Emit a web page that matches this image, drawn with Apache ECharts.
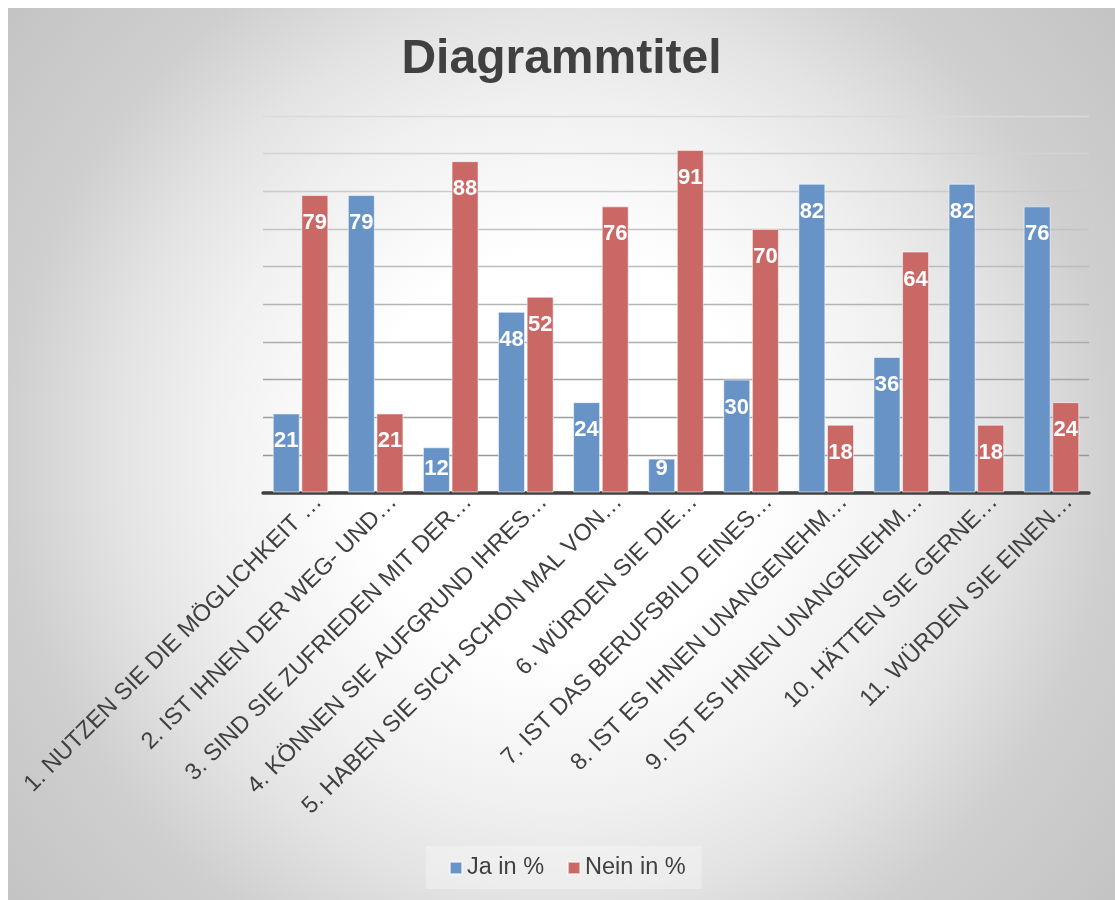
<!DOCTYPE html>
<html><head><meta charset="utf-8">
<script src="https://cdn.jsdelivr.net/npm/echarts@6.0.0/dist/echarts.min.js"></script>
<style>
html,body{margin:0;padding:0;background:#ffffff;width:1115px;height:900px;overflow:hidden}
#chart{position:absolute;left:8px;top:8px;width:1107px;height:892px;
background:radial-gradient(circle at 553px 446px,#ffffff 0px,#ffffff 200px,#f0f0f0 354px,#e3e3e3 446px,#cfcfcf 553px,#c3c3c3 720px);}
</style></head><body><div id="chart"></div>
<script>
const titleText = 'Diagrammtitel';
const categories = [
  '1. NUTZEN SIE DIE MÖGLICHKEIT …',
  '2. IST IHNEN DER WEG- UND…',
  '3. SIND SIE ZUFRIEDEN MIT DER…',
  '4. KÖNNEN SIE AUFGRUND IHRES…',
  '5. HABEN SIE SICH SCHON MAL VON…',
  '6. WÜRDEN SIE DIE…',
  '7. IST DAS BERUFSBILD EINES…',
  '8. IST ES IHNEN UNANGENEHM…',
  '9. IST ES IHNEN UNANGENEHM…',
  '10. HÄTTEN SIE GERNE…',
  '11. WÜRDEN SIE EINEN…'
];
const seriesNames = ['Ja in %', 'Nein in %'];
const jaValues = [21, 79, 12, 48, 24, 9, 30, 82, 36, 82, 76];
const neinValues = [79, 21, 88, 52, 76, 91, 70, 18, 64, 18, 24];
const yMin = 0, yMax = 100, yStep = 10;

const FONT = "'Liberation Sans', Arial, sans-serif";
const TXT = '#404040';

function barData(values) {
  return values.map(v => (v < 13.4
    ? { value: v, label: { position: 'insideBottom', distance: 13 } }
    : { value: v }));
}

const barLabel = {
  show: true, position: 'insideTop', distance: 17,
  color: '#ffffff', fontWeight: 'bold', fontSize: 22, fontFamily: FONT
};

const chart = echarts.init(document.getElementById('chart'), null, { renderer: 'canvas' });
chart.setOption({
  animation: false,
  backgroundColor: 'transparent',
  title: {
    text: titleText, left: 'center', top: 28, padding: 0,
    textStyle: { fontSize: 48, fontWeight: 'bold', color: TXT, fontFamily: FONT, lineHeight: 48 }
  },
  legend: {
    data: seriesNames, left: 418, top: 838, padding: [10, 16, 9, 23],
    itemGap: 23, itemWidth: 12, itemHeight: 12, icon: 'rect',
    backgroundColor: 'rgba(255,255,255,0.3)',
    textStyle: { fontSize: 23.5, color: TXT, fontFamily: FONT }
  },
  grid: { left: 255, right: 26, top: 108, bottom: 407.5, containLabel: false },
  xAxis: {
    type: 'category', data: categories,
    axisTick: { show: false },
    axisLine: { lineStyle: { color: '#404040', width: 3.5 } },
    axisLabel: {
      interval: 0, rotate: 45, fontSize: 23.5, color: TXT, fontFamily: FONT,
      margin: -12, verticalAlign: 'top', lineHeight: 50
    }
  },
  yAxis: {
    type: 'value', min: yMin, max: yMax, interval: yStep,
    axisLabel: { show: false }, axisLine: { show: false }, axisTick: { show: false },
    splitLine: { lineStyle: { width: 1.3, color: {
      type: 'linear', x: 0, y: 108, x2: 0, y2: 484, global: true,
      colorStops: [{ offset: 0, color: '#dadada' }, { offset: 1, color: '#8f8f8f' }]
    } } }
  },
  series: [
    { name: seriesNames[0], type: 'bar', data: barData(jaValues), barWidth: 27, barGap: '6%',
      itemStyle: { color: '#6793c7', borderColor: 'rgba(255,255,255,0.55)', borderWidth: 1 },
      label: barLabel },
    { name: seriesNames[1], type: 'bar', data: barData(neinValues), barWidth: 27,
      itemStyle: { color: '#c96865', borderColor: 'rgba(255,255,255,0.55)', borderWidth: 1 },
      label: barLabel }
  ]
});
</script></body></html>
